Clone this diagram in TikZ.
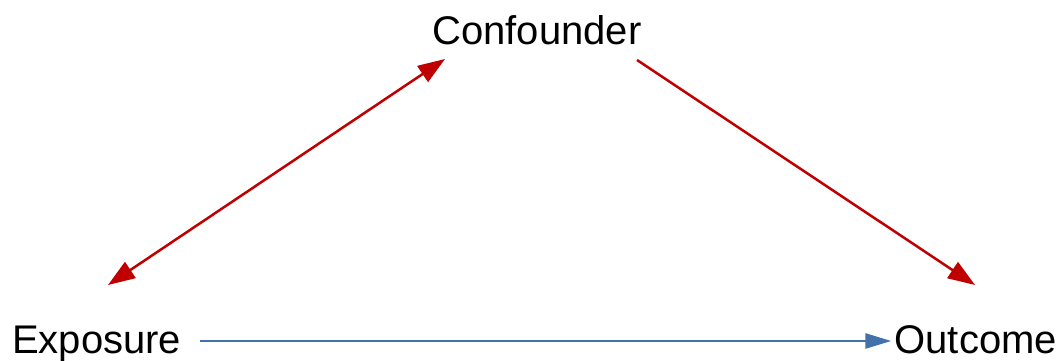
\documentclass[tikz,border=0pt]{standalone}
\usepackage{fontspec}
\setmainfont{Liberation Sans}
\usetikzlibrary{arrows.meta}
\definecolor{arrowred}{RGB}{192,0,0}
\definecolor{arrowblue}{RGB}{65,115,170}
\tikzset{
  label/.style={inner sep=0pt, font=\fontsize{40}{48}\selectfont},
  redline/.style={draw=arrowred, line width=2.5pt},
  redarrow/.style={redline, -{Triangle[length=27pt,width=19pt,fill=arrowred]}},
  reddouble/.style={redline, {Triangle[length=27pt,width=19pt,fill=arrowred]}-{Triangle[length=27pt,width=19pt,fill=arrowred]}},
  bluearrow/.style={draw=arrowblue, line width=2.5pt, -{Triangle[length=26pt,width=15pt,fill=arrowblue]}}
}
\begin{document}
\begin{tikzpicture}[x=1pt,y=1pt]
  \useasboundingbox (0,0) rectangle (1063,361);
  % variables of the causal diagram
  \node[label, anchor=base] (conf) at (537,316) {Confounder};
  \node[label, anchor=base west] (expo) at (12,7) {Exposure};
  \node[label, anchor=base east] (outc) at (1057,7) {Outcome};
  % confounding paths
  \draw[reddouble]
    ([shift={(96,69)}]expo.base west) -- ([shift={(-92,-14)}]conf.base);
  \draw[redarrow]
    ([shift={(100,-15)}]conf.base) -- ([shift={(-82,69)}]outc.base east);
  % causal effect of interest
  \draw[bluearrow]
    ([shift={(19,13)}]expo.base east) -- ([shift={(-3,13)}]outc.base west);
\end{tikzpicture}
\end{document}
